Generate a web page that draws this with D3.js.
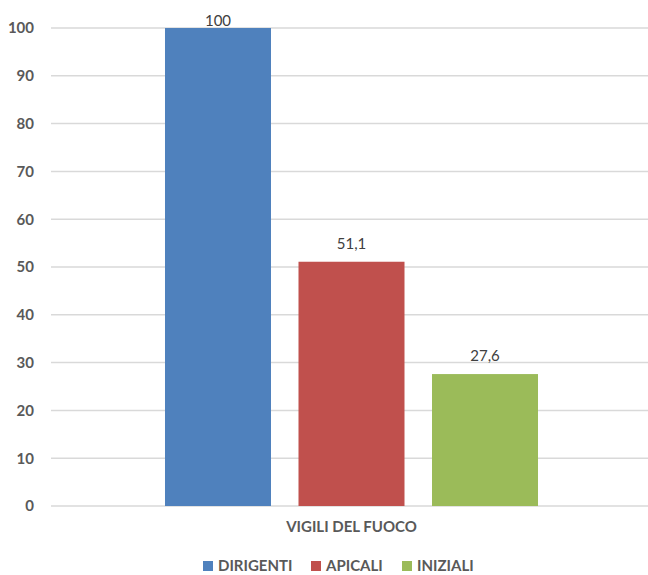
<!DOCTYPE html>
<html>
<head>
<meta charset="utf-8">
<script src="https://cdn.jsdelivr.net/npm/d3@7"></script>
<style>
  html, body { margin: 0; padding: 0; background: #fff; }
  svg text { font-family: Lato, "Open Sans", "Liberation Sans", sans-serif; }
</style>
</head>
<body>
<svg id="chart" width="648" height="575"></svg>
<script>
// Data
const categories = ["VIGILI DEL FUOCO"];
const seriesNames = ["DIRIGENTI", "APICALI", "INIZIALI"];
const seriesValues = [100, 51.1, 27.6];
const seriesColors = ["#4F81BD", "#C0504D", "#9BBB59"];
const yTicks = [0, 10, 20, 30, 40, 50, 60, 70, 80, 90, 100];

const svg = d3.select("#chart");
const plot = { left: 51, right: 652, top: 28, bottom: 506 };

const y = d3.scaleLinear().domain([0, 100]).range([plot.bottom, plot.top]);
const x0 = d3.scaleBand().domain(categories).range([plot.left, plot.right])
  .paddingInner(0).paddingOuter(0.3056);
const x1 = d3.scaleBand().domain(seriesNames).range([0, x0.bandwidth()])
  .paddingInner(0.206).paddingOuter(0);

// Horizontal gridlines
svg.append("g").selectAll("line").data(yTicks).join("line")
  .attr("x1", plot.left).attr("x2", 648)
  .attr("y1", d => y(d)).attr("y2", d => y(d))
  .attr("stroke", "#d9d9d9").attr("stroke-width", 1.5);

// Y axis labels
const yAxis = d3.axisLeft(y).tickValues(yTicks).tickSize(0).tickPadding(0);
const yg = svg.append("g").attr("transform", `translate(${plot.left - 17},0)`).call(yAxis);
yg.select(".domain").remove();
yg.selectAll("text")
  .attr("fill", "#595959").attr("font-size", 15).attr("font-weight", "bold")
  .style("font-family", "Lato, 'Open Sans', sans-serif");

// Bars
const rows = seriesNames.map((n, i) => ({ name: n, value: seriesValues[i], color: seriesColors[i], cat: categories[0] }));
const g = svg.append("g");
g.selectAll("rect").data(rows).join("rect")
  .attr("x", d => x0(d.cat) + x1(d.name))
  .attr("y", d => y(d.value))
  .attr("width", x1.bandwidth())
  .attr("height", d => y(0) - y(d.value))
  .attr("fill", d => d.color);

// Value labels
const fmt = v => String(v).replace(".", ",");
g.selectAll("text.val").data(rows).join("text")
  .attr("class", "val")
  .attr("x", d => x0(d.cat) + x1(d.name) + x1.bandwidth() / 2)
  .attr("y", d => Math.max(y(d.value) - 13, 26))
  .attr("text-anchor", "middle")
  .attr("font-size", 15).attr("fill", "#404040")
  .text(d => fmt(d.value));

// Category label
svg.append("g").selectAll("text").data(categories).join("text")
  .attr("x", d => x0(d) + x0.bandwidth() / 2)
  .attr("y", 532)
  .attr("text-anchor", "middle")
  .attr("font-size", 15).attr("font-weight", "bold").attr("fill", "#595959")
  .text(d => d);

// Legend
const legendX = [203, 311, 402];
const lg = svg.append("g").selectAll("g").data(rows).join("g")
  .attr("transform", (d, i) => `translate(${legendX[i]},561)`);
lg.append("rect").attr("width", 10).attr("height", 10).attr("fill", d => d.color);
lg.append("text").attr("x", 15).attr("y", 10)
  .attr("font-size", 15).attr("font-weight", "bold").attr("fill", "#595959")
  .text(d => d.name);
</script>
</body>
</html>
